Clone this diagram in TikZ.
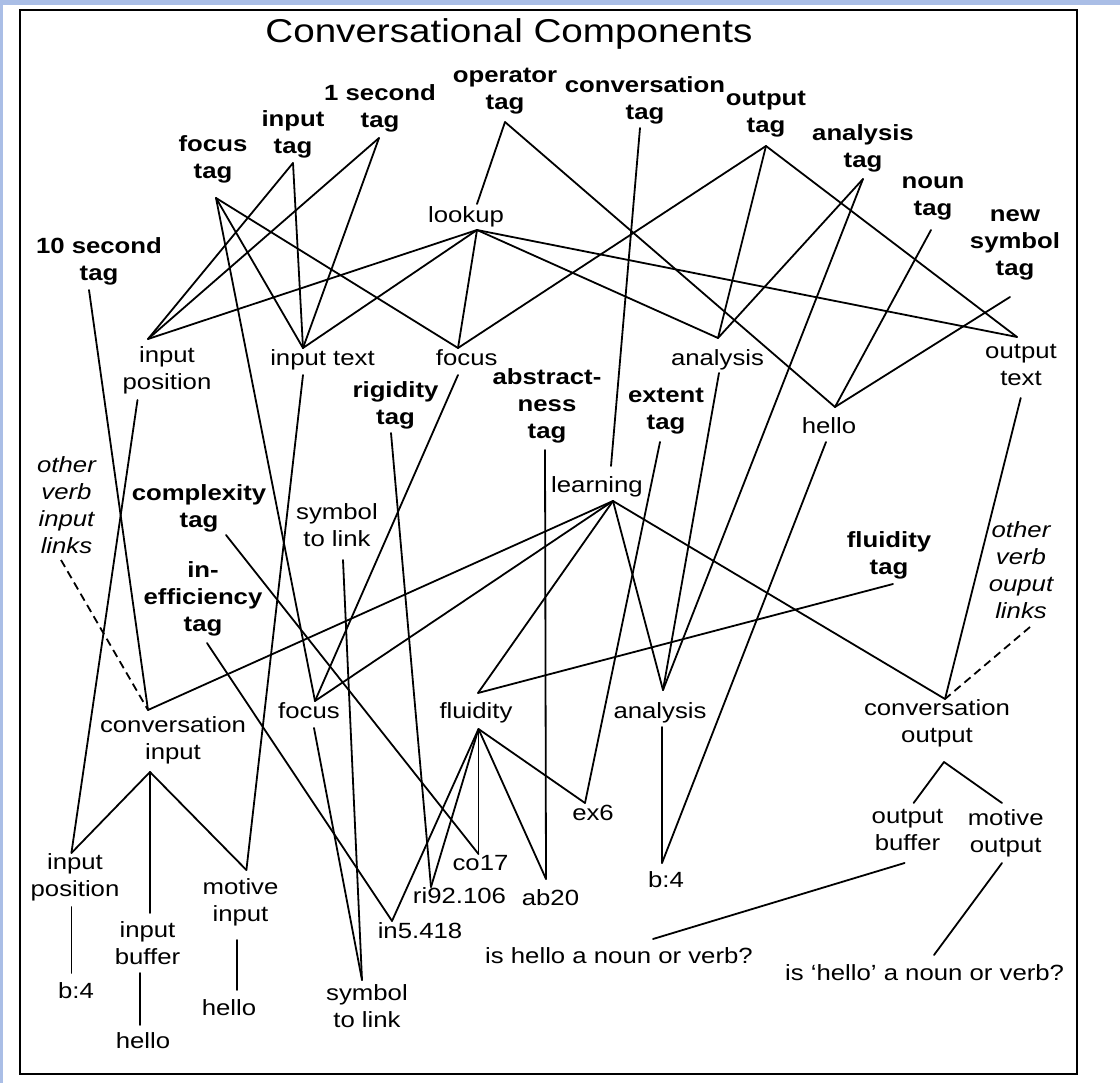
\documentclass[tikz,border=0pt]{standalone}
\usepackage{fontspec}
\setmainfont{Liberation Sans}[FakeStretch=1.17]
\definecolor{bandblue}{RGB}{170,190,230}
\begin{document}
\begin{tikzpicture}[x=1pt,y=-1pt,
  every node/.style={inner sep=0pt},
  lbl/.style={anchor=north, yshift=18.9pt, align=center, font=\fontsize{22}{27}\selectfont, execute at begin node=\strut},
  tagl/.style={lbl, font=\fontsize{22}{27}\selectfont\bfseries},
  itl/.style={lbl, font=\fontsize{22}{27}\selectfont\itshape},
  link/.style={line width=1.8pt, line cap=round},
  dlink/.style={line width=1.8pt, dash pattern=on 8pt off 5pt}]
\useasboundingbox (0,0) rectangle (1120,1083);
\fill[white] (0,0) rectangle (1120,1083);
\fill[bandblue] (0,0) rectangle (1120,5);
\fill[bandblue] (0,0) rectangle (3,1083);
\draw[line width=2.2pt] (20,10) rectangle (1077,1074);

\node[anchor=base, font=\fontsize{33}{40}\selectfont] (title) at (509,43) {Conversational Components};

% tags
\node[tagl] (t10) at (99,256) {10 second\\tag};
\node[tagl] (tfoc) at (213,154) {focus\\tag};
\node[tagl] (tin) at (293,129) {input\\tag};
\node[tagl] (t1) at (380,103) {1 second\\tag};
\node[tagl] (top) at (505,87) {operator\\tag};
\node[tagl] (tconv) at (645,95) {conversation\\tag};
\node[tagl] (tout) at (766,110) {output\\tag};
\node[tagl] (tana) at (863,143) {analysis\\tag};
\node[tagl] (tnoun) at (933,195) {noun\\tag};
\node[tagl] (tnew) at (1015,228) {new\\symbol\\tag};
\node[tagl] (trig) at (395.5,400) {rigidity\\tag};
\node[tagl] (tabs) at (547,387) {abstract-\\ness\\tag};
\node[tagl] (text) at (666,407) {extent\\tag};
\node[tagl] (tcomp) at (199,503) {complexity\\tag};
\node[tagl] (tineff) at (203,580) {in-\\efficiency\\tag};
\node[tagl] (tflu) at (889,550) {fluidity\\tag};

% plain labels
\node[lbl] (lookup) at (466,222) {lookup};
\node[lbl] (inpU) at (167,365) {input\\position};
\node[lbl] (intext) at (322.5,365) {input text};
\node[lbl] (focU) at (466.7,365) {focus};
\node[lbl] (anaU) at (717.5,365) {analysis};
\node[lbl] (outtext) at (1021,363) {output\\text};
\node[lbl] (hello1) at (829,433) {hello};
\node[lbl] (learning) at (597,492) {learning};
\node[lbl] (symU) at (337,522) {symbol\\to link};
\node[itl] (ovil) at (66.5,475) {other\\verb\\input\\links};
\node[itl] (ovol) at (1021,540) {other\\verb\\ouput\\links};
\node[lbl] (convin) at (173,735) {conversation\\input};
\node[lbl] (focL) at (309,718) {focus};
\node[lbl] (fluL) at (476,718) {fluidity};
\node[lbl] (anaL) at (660,718) {analysis};
\node[lbl] (convout) at (937,718) {conversation\\output};
\node[lbl] (ex6) at (593,820) {ex6};
\node[lbl] (co17) at (480.5,870.5) {co17};
\node[lbl] (ri92) at (459.5,903) {ri92.106};
\node[lbl] (ab20) at (550.5,905) {ab20};
\node[lbl] (in5) at (420,938) {in5.418};
\node[lbl] (b4R) at (666,887) {b:4};
\node[lbl] (inpL) at (75,872) {input\\position};
\node[lbl] (b4L) at (76,998) {b:4};
\node[lbl] (inbuf) at (147.5,940) {input\\buffer};
\node[lbl] (hello2) at (143,1048) {hello};
\node[lbl] (motin) at (240.5,897) {motive\\input};
\node[lbl] (hello3) at (229,1015) {hello};
\node[lbl] (symL) at (367,1003) {symbol\\to link};
\node[lbl] (outbuf) at (907.5,828) {output\\buffer};
\node[lbl] (motout) at (1005.7,828) {motive\\output};
\node[lbl] (q1) at (619,963) {is hello a noun or verb?};
\node[lbl] (q2) at (924.6,980) {is ‘hello’ a noun or verb?};

% junction points
\coordinate (t10b) at (89,290);
\coordinate (tfocb) at (216,198);
\coordinate (tinb) at (293,163);
\coordinate (t1b) at (379,138);
\coordinate (topb) at (505,122);
\coordinate (tconvb) at (640,128);
\coordinate (toutb) at (766,146);
\coordinate (tanab) at (863,179);
\coordinate (tnounb) at (931,230);
\coordinate (tnewb) at (1010,297);
\coordinate (trigb) at (391,433);
\coordinate (tabsb) at (545,450);
\coordinate (textb) at (660,442);
\coordinate (tcompb) at (226,535);
\coordinate (tineffb) at (207,643);
\coordinate (tflub) at (893,584);
\coordinate (lookupt) at (477,204);
\coordinate (lookupb) at (477,230);
\coordinate (inpUt) at (148,339);
\coordinate (inpUb) at (137.5,400);
\coordinate (intextt) at (303,348);
\coordinate (intextb) at (303,375);
\coordinate (focUt) at (458,348);
\coordinate (focUb) at (458,375);
\coordinate (anaUt) at (718,338);
\coordinate (anaUb) at (719,373);
\coordinate (outtextt) at (1017,337);
\coordinate (outtextb) at (1020.7,398);
\coordinate (hello1t) at (835,407);
\coordinate (hello1b) at (826,442);
\coordinate (learnt) at (611,466);
\coordinate (learnb) at (613,501);
\coordinate (symUb) at (343,560);
\coordinate (ovilb) at (61,560);
\coordinate (ovolb) at (1030,627);
\coordinate (convint) at (148,710);
\coordinate (convinb) at (150,772);
\coordinate (focLt) at (315,701);
\coordinate (focLb) at (314,728);
\coordinate (fluLt) at (478,693);
\coordinate (fluLb) at (478.5,729);
\coordinate (anaLt) at (663,690);
\coordinate (anaLb) at (662,727);
\coordinate (convoutt) at (945,699);
\coordinate (convoutb) at (944,762);
\coordinate (ex6t) at (585,803);
\coordinate (co17t) at (478.5,854);
\coordinate (ri92t) at (431,887);
\coordinate (ab20t) at (546,879);
\coordinate (in5t) at (392,921);
\coordinate (b4Rt) at (662,863);
\coordinate (inpLt) at (71.4,853);
\coordinate (inpLb) at (71.4,907);
\coordinate (b4Lt) at (71.4,973);
\coordinate (inbuft) at (150,913);
\coordinate (inbufb) at (140,973);
\coordinate (hello2t) at (140,1025);
\coordinate (motint) at (246.4,870);
\coordinate (motinb) at (237,940);
\coordinate (hello3t) at (237,990);
\coordinate (symLt) at (362,980);
\coordinate (outbuft) at (913.6,803);
\coordinate (outbufb) at (904.6,863);
\coordinate (motoutt) at (1002,803);
\coordinate (motoutb) at (1002,863);
\coordinate (q1t) at (653,939);
\coordinate (q2t) at (934,955);

% connectors
\draw[link] (t10b) -- (convint);
\draw[link] (tfocb) -- (focLt);
\draw[link] (tfocb) -- (intextt);
\draw[link] (tfocb) -- (focUt);
\draw[link] (tinb) -- (inpUt);
\draw[link] (tinb) -- (intextt);
\draw[link] (t1b) -- (inpUt);
\draw[link] (t1b) -- (intextt);
\draw[link] (topb) -- (lookupt);
\draw[link] (topb) -- (hello1t);
\draw[link] (tconvb) -- (learnt);
\draw[link] (toutb) -- (focUt);
\draw[link] (toutb) -- (anaUt);
\draw[link] (toutb) -- (outtextt);
\draw[link] (tanab) -- (anaUt);
\draw[link] (tanab) -- (anaLt);
\draw[link] (tnounb) -- (hello1t);
\draw[link] (tnewb) -- (hello1t);
\draw[link] (lookupb) -- (inpUt);
\draw[link] (lookupb) -- (intextt);
\draw[link] (lookupb) -- (focUt);
\draw[link] (lookupb) -- (anaUt);
\draw[link] (lookupb) -- (outtextt);
\draw[link] (inpUb) -- (inpLt);
\draw[link] (intextb) -- (motint);
\draw[link] (focUb) -- (focLt);
\draw[link] (anaUb) -- (anaLt);
\draw[link] (outtextb) -- (convoutt);
\draw[link] (hello1b) -- (b4Rt);
\draw[link] (trigb) -- (ri92t);
\draw[link] (tabsb) -- (ab20t);
\draw[link] (textb) -- (ex6t);
\draw[link] (tcompb) -- (co17t);
\draw[link] (tineffb) -- (in5t);
\draw[link] (tflub) -- (fluLt);
\draw[link] (symUb) -- (symLt);
\draw[link] (learnb) -- (convint);
\draw[link] (learnb) -- (focLt);
\draw[link] (learnb) -- (fluLt);
\draw[link] (learnb) -- (anaLt);
\draw[link] (learnb) -- (convoutt);
\draw[link] (fluLb) -- (in5t);
\draw[link] (fluLb) -- (ri92t);
\draw[link] (fluLb) -- (co17t);
\draw[link] (fluLb) -- (ab20t);
\draw[link] (fluLb) -- (ex6t);
\draw[link] (anaLb) -- (b4Rt);
\draw[link] (focLb) -- (symLt);
\draw[link] (convinb) -- (inpLt);
\draw[link] (convinb) -- (inbuft);
\draw[link] (convinb) -- (motint);
\draw[link] (inpLb) -- (b4Lt);
\draw[link] (inbufb) -- (hello2t);
\draw[link] (motinb) -- (hello3t);
\draw[link] (convoutb) -- (outbuft);
\draw[link] (convoutb) -- (motoutt);
\draw[link] (outbufb) -- (q1t);
\draw[link] (motoutb) -- (q2t);
\draw[dlink] (ovilb) -- (convint);
\draw[dlink] (ovolb) -- (convoutt);
\end{tikzpicture}
\end{document}
